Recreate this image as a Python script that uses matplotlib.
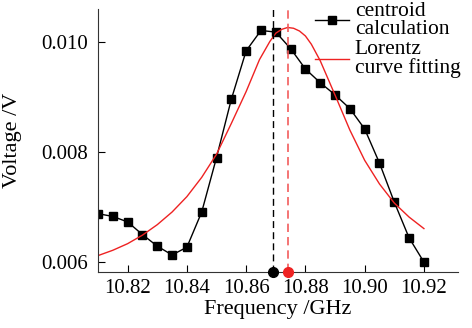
import matplotlib
matplotlib.use("Agg")
import matplotlib.pyplot as plt

# measured points (centroid calculation)
freq = [10.810, 10.815, 10.820, 10.825, 10.830, 10.835, 10.840, 10.845,
        10.850, 10.855, 10.860, 10.865, 10.870, 10.875, 10.880, 10.885,
        10.890, 10.895, 10.900, 10.905, 10.910, 10.915, 10.920]
volt = [0.00688, 0.00683, 0.00673, 0.00650, 0.00629, 0.00613, 0.00627,
        0.00691, 0.00790, 0.00896, 0.00984, 0.01021, 0.01018, 0.00988,
        0.00951, 0.00926, 0.00904, 0.00879, 0.00842, 0.00780, 0.00709,
        0.00644, 0.00600]

# Lorentz fit curve
fit_freq = [10.810, 10.815, 10.820, 10.825, 10.830, 10.835, 10.840,
            10.845, 10.850, 10.855, 10.860, 10.8645, 10.868, 10.870,
            10.872, 10.874, 10.876, 10.878, 10.880, 10.882, 10.885,
            10.890, 10.895, 10.900, 10.905, 10.910, 10.915, 10.920]
fit_volt = [0.006118, 0.006215, 0.006335, 0.006490, 0.006680, 0.006910,
            0.007190, 0.007540, 0.007960, 0.008520, 0.009100, 0.009680,
            0.010010, 0.010160, 0.010230, 0.010264, 0.010250, 0.010200,
            0.010110, 0.009960, 0.009660, 0.009036, 0.008400, 0.007850,
            0.007420, 0.007073, 0.006818, 0.006609]

peak_centroid = 10.869
peak_lorentz = 10.874

plt.rcParams.update({
    "font.family": ["Liberation Serif", "DejaVu Serif"],
    "font.size": 15,
})

fig = plt.figure(figsize=(4.72, 3.28), dpi=100)
ax = fig.add_axes([98 / 472, 1 - 272 / 328, 360 / 472, 263 / 328])

ax.plot(freq, volt, color="black", lw=1.0, marker="s", ms=5.5,
        label="centroid\ncalculation")
ax.plot(fit_freq, fit_volt, color="#ee2222", lw=1.0,
        label="Lorentz\ncurve fitting")

ax.axvline(peak_centroid, color="black", lw=1.0, ls=(0, (5, 3)))
ax.axvline(peak_lorentz, color="#f25c5c", lw=1.2, ls=(0, (5, 3)))
ax.plot([peak_centroid], [0.00582], "o", color="black", ms=7, clip_on=False, zorder=5)
ax.plot([peak_lorentz], [0.00582], "o", color="#ee2222", ms=7, clip_on=False, zorder=5)

ax.set_xlim(10.81, 10.9315)
ax.set_ylim(0.00582, 0.0106)
ax.set_xticks([10.82, 10.84, 10.86, 10.88, 10.90, 10.92])
ax.set_xticklabels(["10.82", "10.84", "10.86", "10.88", "10.90", "10.92"])
ax.set_yticks([0.006, 0.008, 0.010])
ax.set_yticklabels(["0.006", "0.008", "0.010"])
ax.tick_params(direction="in", length=5, width=0.8)
ax.tick_params(axis="x", pad=5)
ax.tick_params(axis="y", pad=7)

for side in ["top", "right"]:
    ax.spines[side].set_visible(False)
for side in ["left", "bottom"]:
    ax.spines[side].set_color("#333333")

ax.set_xlabel("Frequency /GHz", fontsize=16)
ax.set_ylabel("Voltage /V", fontsize=16)
ax.xaxis.set_label_coords(0.5, -0.105)
ax.yaxis.set_label_coords(-0.21, 0.5)

leg = ax.legend(loc="upper left", bbox_to_anchor=(315 / 472, 0.995),
                bbox_transform=fig.transFigure, frameon=False, fontsize=15.5,
                handlelength=1.6, handletextpad=0.25, labelspacing=0.05,
                borderpad=0.0, borderaxespad=0.0)
for t in leg.get_texts():
    t.set_linespacing(0.95)

fig.savefig("out.png", dpi=100)
